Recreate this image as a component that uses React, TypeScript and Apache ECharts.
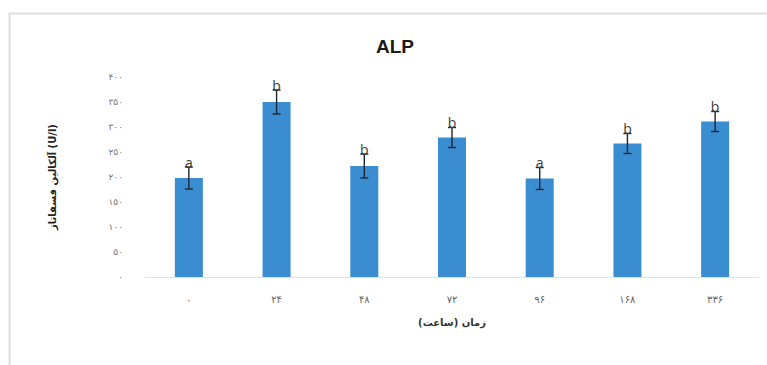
import React, { useEffect, useRef } from "react";
import * as echarts from "echarts";

// Sampling times (hours) and ALP activity, mean ± SD, with significance letters
const categories = ["۰", "۲۴", "۴۸", "۷۲", "۹۶", "۱۶۸", "۳۳۶"];
const alpMeans = [198, 350, 222, 279, 197, 267, 311];
const alpErrors = [22, 24, 24, 20, 22, 20, 20];
const groupLetters = ["a", "b", "b", "b", "a", "b", "b"];
const yTickValues = [0, 50, 100, 150, 200, 250, 300, 350, 400];

const persianDigits = ["۰", "۱", "۲", "۳", "۴", "۵", "۶", "۷", "۸", "۹"];
const toPersian = (n: number) =>
  String(n).replace(/[0-9]/g, (d) => persianDigits[Number(d)]);

export default function App() {
  const ref = useRef<HTMLDivElement>(null);

  useEffect(() => {
    if (!ref.current) return;
    const chart = echarts.init(ref.current, undefined, { renderer: "svg" });
    const fa = "'DejaVu Sans', sans-serif";

    chart.setOption({
      animation: false,
      backgroundColor: "#ffffff",
      title: {
        text: "ALP",
        left: 390,
        top: 32,
        textAlign: "center",
        textStyle: { fontFamily: "Arial, 'Liberation Sans', sans-serif", fontSize: 19, fontWeight: "bold", color: "#1a1a1a" },
      },
      graphic: [
        {
          type: "rect",
          shape: { x: 9.5, y: 13.5, width: 800, height: 400 },
          style: { fill: "none", stroke: "#dcdfe2", lineWidth: 2 },
          silent: true,
        },
      ],
      grid: { left: 145, right: 8, top: 77, bottom: 88 },
      xAxis: {
        type: "category",
        data: categories,
        name: "زمان (ساعت)",
        nameLocation: "middle",
        nameGap: 40,
        nameTextStyle: { fontFamily: fa, fontSize: 10, color: "#333", fontWeight: "bold" },
        axisLine: { show: true, lineStyle: { color: "#e2e2e2", width: 1 } },
        axisTick: { show: false },
        axisLabel: { fontFamily: fa, fontSize: 10, color: "#666", margin: 17 },
      },
      yAxis: {
        type: "value",
        min: 0,
        max: 400,
        interval: 50,
        name: "آلکالین فسفاتاز (U/l)",
        nameLocation: "middle",
        nameGap: 88,
        nameRotate: 90,
        nameTextStyle: { fontFamily: fa, fontSize: 10, color: "#222", fontWeight: "bold" },
        axisLine: { show: false },
        axisTick: { show: false },
        splitLine: { show: false },
        axisLabel: {
          fontFamily: fa,
          fontSize: 9,
          color: "#777",
          margin: 22,
          formatter: (v: number) => (yTickValues.includes(v) ? toPersian(v) : ""),
        },
      },
      series: [
        {
          type: "bar",
          data: alpMeans,
          barWidth: 28,
          itemStyle: { color: "#3a8dd0" },
        },
        {
          type: "custom",
          data: alpMeans.map((m, i) => [i, m, alpErrors[i]]),
          z: 10,
          renderItem: (params: any, api: any) => {
            const i = api.value(0);
            const mean = api.value(1);
            const err = api.value(2);
            const hi = api.coord([i, mean + err]);
            const lo = api.coord([i, mean - err]);
            const cap = 4;
            const style = { stroke: "#1c2733", lineWidth: 1.4 };
            return {
              type: "group",
              children: [
                { type: "line", shape: { x1: hi[0], y1: hi[1], x2: lo[0], y2: lo[1] }, style },
                { type: "line", shape: { x1: hi[0] - cap, y1: hi[1], x2: hi[0] + cap, y2: hi[1] }, style },
                { type: "line", shape: { x1: lo[0] - cap, y1: lo[1], x2: lo[0] + cap, y2: lo[1] }, style },
                {
                  type: "text",
                  x: hi[0],
                  y: hi[1] + 2,
                  style: {
                    text: groupLetters[params.dataIndex],
                    fontFamily: "'Open Sans', Arial, sans-serif",
                    fontSize: 14,
                    fill: "#3a3a3a",
                    align: "center",
                    verticalAlign: "bottom",
                  },
                },
              ],
            };
          },
        },
      ],
    });

    return () => chart.dispose();
  }, []);

  return (
    <div
      ref={ref}
      style={{ position: "fixed", left: 0, top: 0, width: 767, height: 365 }}
    />
  );
}
